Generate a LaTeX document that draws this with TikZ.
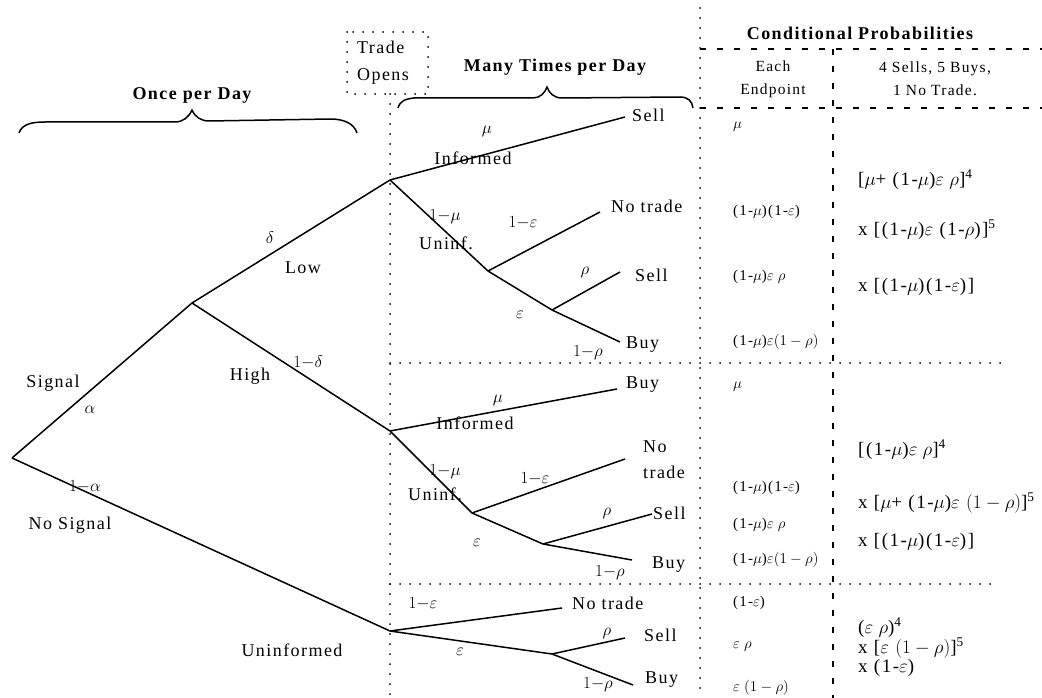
\RequirePackage{fix-cm}
\documentclass[tikz,border=0pt]{standalone}
\usepackage{fontspec}
\setmainfont{Liberation Serif}[LetterSpace=8]
\begin{document}
\begin{tikzpicture}[x=1pt,y=-1pt,
  br/.style={line width=1.5pt},
  T/.style={inner sep=0pt, font=\fontsize{18}{21}\selectfont},
  M/.style={inner sep=0pt, font=\fontsize{17}{19}\selectfont},
  H/.style={inner sep=0pt, font=\fontsize{18}{21}\selectfont\bfseries},
  HT/.style={inner sep=0pt, font=\fontsize{15.5}{23}\selectfont},
  C1/.style={inner sep=0pt, anchor=west, font=\fontsize{15}{17}\selectfont},
  C2/.style={inner sep=0pt, anchor=west, font=\fontsize{19}{21}\selectfont},
  E/.style={T, anchor=west},
  dotl/.style={line width=2pt, line cap=round, dash pattern=on 0pt off 10pt},
  dashl/.style={line width=1.4pt, dash pattern=on 6pt off 11pt},
  brace/.style={line width=1.5pt}]
\useasboundingbox (0,0) rectangle (1042,698);
\fill[white] (0,0) rectangle (1042,698);

% ---------- frames ----------
\draw[dotl] (347,32) rectangle (428,94);
\draw[dotl] (390,94) -- (390,698);
\draw[dotl] (700,8) -- (700,698);
\draw[dotl] (390,363) -- (1003,363);
\draw[dotl] (390,584) -- (1000,584);
\draw[dashl] (700,49) -- (1042,49);
\draw[dashl] (700,108) -- (1042,108);
\draw[dashl] (833,49) -- (833,698);

% ---------- headers ----------
\node[H] (h1) at (192,95) {Once per Day};
\node[T, align=left, anchor=west, font=\fontsize{18}{27}\selectfont] (h2) at (357,63) {Trade\\Opens};
\node[H] (h3) at (555,67) {Many Times per Day};
\node[H] (h4) at (860,33) {Conditional Probabilities};
\node[HT, align=center] (h5) at (773,79) {Each\\Endpoint};
\node[HT, align=center] (h6) at (935,79) {4 Sells, 5 Buys,\\1 No Trade.};

\draw[brace] (19,133) .. controls (22,124) and (32,122) .. (45,122) -- (175,122)
  .. controls (183,122) and (189,117) .. (192,110)
  .. controls (195,117) and (201,121) .. (209,121) -- (330,119)
  .. controls (345,119) and (354,124) .. (357,133);
\draw[brace] (398,108) .. controls (400,101) and (405,99) .. (414,98) -- (533,98)
  .. controls (540,98) and (545,93) .. (547,87)
  .. controls (549,93) and (554,98) .. (562,98) -- (680,97)
  .. controls (688,97) and (692,101) .. (693,108);

% ---------- tree points ----------
\coordinate (R) at (12,458);
\coordinate (S) at (192,303);
\coordinate (L) at (390,180);
\coordinate (Hh) at (390,431);
\coordinate (U) at (390,631);
% low subtree
\coordinate (LS) at (625,117);
\coordinate (L1) at (488,271);
\coordinate (LN) at (600,212);
\coordinate (L2) at (552,310);
\coordinate (LS2) at (620,272);
\coordinate (LB) at (620,342);
% high subtree
\coordinate (HB) at (617,389);
\coordinate (H1) at (472,513);
\coordinate (HN) at (625,459);
\coordinate (H2) at (543,544);
\coordinate (HS) at (652,514);
\coordinate (HB2) at (632,560);
% uninformed subtree
\coordinate (UN) at (562,608);
\coordinate (U2) at (552,654);
\coordinate (US) at (625,638);
\coordinate (UB) at (633,685);

\draw[br] (R) -- (S); \draw[br] (R) -- (U);
\draw[br] (S) -- (L); \draw[br] (S) -- (Hh);
\draw[br] (L) -- (LS); \draw[br] (L) -- (L1);
\draw[br] (L1) -- (LN); \draw[br] (L1) -- (L2);
\draw[br] (L2) -- (LS2); \draw[br] (L2) -- (LB);
\draw[br] (Hh) -- (HB); \draw[br] (Hh) -- (H1);
\draw[br] (H1) -- (HN); \draw[br] (H1) -- (H2);
\draw[br] (H2) -- (HS); \draw[br] (H2) -- (HB2);
\draw[br] (U) -- (UN); \draw[br] (U) -- (U2);
\draw[br] (U2) -- (US); \draw[br] (U2) -- (UB);

% ---------- end labels ----------
\node[E] (eLS) at (632,115) {Sell};
\node[E] (eLN) at (611,206) {No trade};
\node[E] (eLS2) at (635,275) {Sell};
\node[E] (eLB) at (626,345) {Buy};
\node[E] (eHB) at (626,385) {Buy};
\node[E, align=left, font=\fontsize{18}{26}\selectfont] (eHN) at (643,460) {No\\trade};
\node[E] (eHS) at (653,513) {Sell};
\node[E] (eHB2) at (652,565) {Buy};
\node[E] (eUN) at (572,603) {No trade};
\node[E] (eUS) at (644,635) {Sell};
\node[E] (eUB) at (645,680) {Buy};

% ---------- branch labels ----------
\node[M] (ld) at (270,238) {$\delta$};
\node[T] (lLow) at (303,268) {Low};
\node[M] (l1d) at (308,362) {$1{-}\delta$};
\node[T] (lHigh) at (250,376) {High};
\node[T] (lSig) at (53,383) {Signal};
\node[M] (la) at (90,410) {$\alpha$};
\node[M] (l1a) at (85,487) {$1{-}\alpha$};
\node[T] (lNoSig) at (70,525) {No Signal};
\node[T] (lUninf) at (292,650) {Uninformed};

\node[M] (a1) at (487,131) {$\mu$};
\node[T] (a2) at (473,158) {Informed};
\node[M] (a3) at (445,217) {$1{-}\mu$};
\node[T] (a4) at (446,243) {Uninf.};
\node[M] (a5) at (523,223) {$1{-}\varepsilon$};
\node[M] (a6) at (585,272) {$\rho$};
\node[M] (a7) at (520,315) {$\varepsilon$};
\node[M] (a8) at (588,353) {$1{-}\rho$};

\node[M] (b1) at (498,400) {$\mu$};
\node[T] (b2) at (475,423) {Informed};
\node[M] (b3) at (445,472) {$1{-}\mu$};
\node[T] (b4) at (435,494) {Uninf.};
\node[M] (b5) at (535,479) {$1{-}\varepsilon$};
\node[M] (b6) at (607,513) {$\rho$};
\node[M] (b7) at (477,543) {$\varepsilon$};
\node[M] (b8) at (610,573) {$1{-}\rho$};

\node[M] (c1) at (423,604) {$1{-}\varepsilon$};
\node[M] (c2) at (460,652) {$\varepsilon$};
\node[M] (c3) at (607,633) {$\rho$};
\node[M] (c4) at (598,685) {$1{-}\rho$};

% ---------- table column 1 ----------
\node[C1] (p1) at (733,127) {$\mu$};
\node[C1] (p2) at (733,212) {(1-$\mu$)(1-$\varepsilon$)};
\node[C1] (p3) at (733,277) {(1-$\mu$)$\varepsilon\;\rho$};
\node[C1] (p4) at (733,342) {(1-$\mu$)$\varepsilon(1-\rho)$};
\node[C1] (p5) at (733,387) {$\mu$};
\node[C1] (p6) at (733,488) {(1-$\mu$)(1-$\varepsilon$)};
\node[C1] (p7) at (733,525) {(1-$\mu$)$\varepsilon\;\rho$};
\node[C1] (p8) at (733,560) {(1-$\mu$)$\varepsilon(1-\rho)$};
\node[C1] (p9) at (733,603) {(1-$\varepsilon$)};
\node[C1] (p10) at (733,647) {$\varepsilon\;\rho$};
\node[C1] (p11) at (733,688) {$\varepsilon\;(1-\rho)$};

% ---------- table column 2 ----------
\node[C2] (q1) at (858,180) {[$\mu$+ (1-$\mu$)$\varepsilon\;\rho$]\textsuperscript{4}};
\node[C2] (q2) at (858,230) {x [(1-$\mu$)$\varepsilon$ (1-$\rho$)]\textsuperscript{5}};
\node[C2] (q3) at (858,287) {x [(1-$\mu$)(1-$\varepsilon$)]};
\node[C2] (q4) at (858,450) {[(1-$\mu$)$\varepsilon\;\rho$]\textsuperscript{4}};
\node[C2] (q5) at (858,503) {x [$\mu$+ (1-$\mu$)$\varepsilon$ $(1-\rho)$]\textsuperscript{5}};
\node[C2] (q6) at (858,542) {x [(1-$\mu$)(1-$\varepsilon$)]};
\node[C2] (q7) at (858,628) {($\varepsilon\;\rho$)\textsuperscript{4}};
\node[C2] (q8) at (858,648) {x [$\varepsilon$ $(1-\rho)$]\textsuperscript{5}};
\node[C2] (q9) at (858,668) {x (1-$\varepsilon$)};
\end{tikzpicture}
\end{document}
